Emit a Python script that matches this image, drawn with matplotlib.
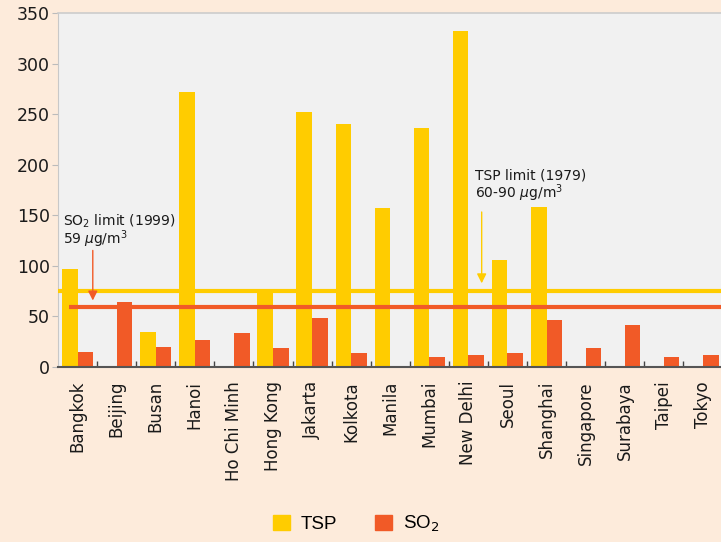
import matplotlib
matplotlib.use("Agg")
import matplotlib.pyplot as plt
import numpy as np
from matplotlib.patches import Patch

cities = ["Bangkok", "Beijing", "Busan", "Hanoi", "Ho Chi Minh", "Hong Kong",
          "Jakarta", "Kolkota", "Manila", "Mumbai", "New Delhi", "Seoul",
          "Shanghai", "Singapore", "Surabaya", "Taipei", "Tokyo"]
tsp = [97, 0, 35, 272, 0, 77, 252, 240, 157, 236, 332, 106, 158, 0, 0, 0, 0]
so2 = [15, 64, 20, 27, 34, 19, 48, 14, 0, 10, 12, 14, 46, 19, 42, 10, 12]
tsp_limit = 75
so2_limit = 59
yticks = [0, 50, 100, 150, 200, 250, 300, 350]

YELLOW = "#FFCC00"
ORANGE = "#F15A27"
BG = "#FDEBDB"
AXBG = "#F1F1F1"

plt.rcParams['font.family'] = ['DejaVu Sans']
plt.rcParams['mathtext.fontset'] = 'dejavusans'

fig = plt.figure(figsize=(7.21, 5.42), dpi=100, facecolor=BG)
ax = fig.add_axes([58/721, 1 - 367/542, 1 - 58/721 + 0.002, (367 - 13)/542])
ax.set_facecolor(AXBG)

x = np.arange(len(cities))
w = 0.4
tsp_arr = np.array(tsp, dtype=float)
so2_arr = np.array(so2, dtype=float)
mt = tsp_arr > 0
ms = so2_arr > 0
ax.bar(x[mt] - w/2, tsp_arr[mt], width=w, color=YELLOW, zorder=2)
ax.bar(x[ms] + w/2, so2_arr[ms], width=w, color=ORANGE, zorder=2)

ax.hlines(tsp_limit, -0.5, len(cities) - 0.5, color=YELLOW, lw=3, zorder=3)
ax.hlines(so2_limit, -0.22, len(cities) - 0.5, color=ORANGE, lw=3, zorder=3)

ax.set_xlim(-0.5, len(cities) - 0.5)
ax.set_ylim(0, 350)
ax.set_yticks(yticks)
ax.tick_params(axis='y', labelsize=12.5, length=4, color="#BBBBBB", pad=2, labelcolor="#1a1a1a")
ax.set_xticks(x)
ax.set_xticklabels(cities, rotation=90, fontsize=12, color="#1a1a1a")
ax.tick_params(axis='x', which='major', length=0, pad=10)
ax.set_xticks(np.arange(0.5, len(cities) - 0.5, 1), minor=True)
ax.tick_params(axis='x', which='minor', direction='in', length=4, color="#444444", width=1)

ax.spines["right"].set_visible(False)
ax.spines["top"].set_color("#CCCCCC")
ax.spines["top"].set_linewidth(1.2)
ax.spines["left"].set_color("#C8C8C8")
ax.spines["bottom"].set_color("#555555")
ax.spines["bottom"].set_linewidth(1.5)

# annotations
ax.annotate("", xy=(0.39, 63), xytext=(0.39, 118),
            arrowprops=dict(arrowstyle="-|>", color=ORANGE, lw=1, mutation_scale=14),
            zorder=4)
ax.text(-0.37, 153, "SO$_2$ limit (1999)\n59 $\\mu$g/m$^3$", fontsize=10,
        va="top", ha="left", color="#1a1a1a", linespacing=0.95)

ax.annotate("", xy=(10.34, 80), xytext=(10.34, 156),
            arrowprops=dict(arrowstyle="-|>", color=YELLOW, lw=1, mutation_scale=14),
            zorder=4)
ax.text(10.16, 196, "TSP limit (1979)\n60-90 $\\mu$g/m$^3$", fontsize=10,
        va="top", ha="left", color="#1a1a1a", linespacing=0.95)

handles = [Patch(color=YELLOW, label="TSP"), Patch(color=ORANGE, label="SO$_2$")]
fig.legend(handles=handles, loc="center", bbox_to_anchor=(356/721, 1 - 524/542),
           ncol=2, frameon=False,
           prop={'family': 'Liberation Sans', 'size': 13.5},
           handlelength=0.9, handleheight=0.9,
           handletextpad=0.6, columnspacing=2.0)

fig.savefig("out.png", dpi=100, facecolor=BG)
